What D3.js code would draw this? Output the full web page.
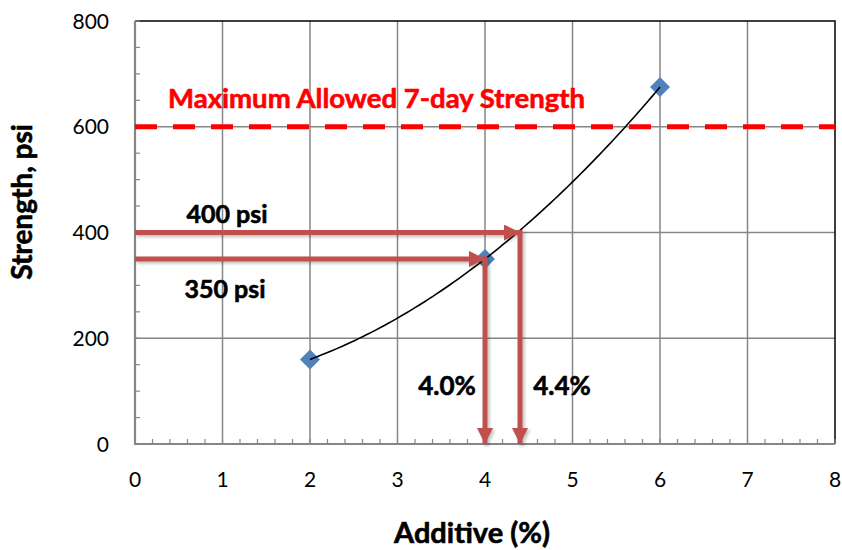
<!DOCTYPE html>
<html>
<head>
<meta charset="utf-8">
<script src="https://cdn.jsdelivr.net/npm/d3@7"></script>
<style>
  body { margin: 0; background: #fff; }
  text { font-family: Lato, "Open Sans", sans-serif; }
  text.heavy { font-weight: bold; stroke-width: 0.6px; paint-order: stroke; }
</style>
</head>
<body>
<svg id="chart"></svg>
<script>
// chart data
const additive = [2, 4, 6];
const strength = [160, 350, 675];
const maxStrength = 600;
const maxLabel = "Maximum Allowed 7-day Strength";
const readPsi = [400, 350];
const readPct = [4.4, 4.0];
const xTicks = [0, 1, 2, 3, 4, 5, 6, 7, 8];
const yTicks = [0, 200, 400, 600, 800];

// least squares polynomial (order 2) trendline, like the spreadsheet one
function polyfit2(xs, ys) {
  const s = (f) => d3.sum(xs.map((x, i) => f(x, ys[i])));
  const m = [
    [s((x) => 1), s((x) => x), s((x) => x * x), s((x, y) => y)],
    [s((x) => x), s((x) => x * x), s((x) => x ** 3), s((x, y) => x * y)],
    [s((x) => x * x), s((x) => x ** 3), s((x) => x ** 4), s((x, y) => x * x * y)]
  ];
  for (let i = 0; i < 3; i++) {
    for (let j = i + 1; j < 3; j++) {
      const f = m[j][i] / m[i][i];
      for (let k = i; k < 4; k++) m[j][k] -= f * m[i][k];
    }
  }
  const c = [0, 0, 0];
  for (let i = 2; i >= 0; i--) {
    let v = m[i][3];
    for (let k = i + 1; k < 3; k++) v -= m[i][k] * c[k];
    c[i] = v / m[i][i];
  }
  return (x) => c[0] + c[1] * x + c[2] * x * x;
}

function init() {
  const width = 842,
    height = 550;

  const svg = d3.select("#chart").attr("width", width).attr("height", height);

  const x = d3.scaleLinear().domain([0, 8]).range([135, 835]);
  const y = d3.scaleLinear().domain([0, 800]).range([444, 21]);

  const grey = "#868686";
  const arrowRed = "#C0504D";

  const defs = svg.append("defs");
  defs
    .append("filter")
    .attr("id", "shadow")
    .attr("x", "-10%")
    .attr("y", "-50%")
    .attr("width", "120%")
    .attr("height", "200%")
    .append("feDropShadow")
    .attr("dx", 2)
    .attr("dy", 2)
    .attr("stdDeviation", 1.5)
    .attr("flood-color", "#000")
    .attr("flood-opacity", 0.25);

  defs
    .append("marker")
    .attr("id", "head")
    .attr("markerUnits", "userSpaceOnUse")
    .attr("viewBox", "0 0 16 16")
    .attr("refX", 16)
    .attr("refY", 8)
    .attr("markerWidth", 16)
    .attr("markerHeight", 16)
    .attr("orient", "auto")
    .append("path")
    .attr("d", "M0,0 L16,8 L0,16 Z")
    .attr("fill", arrowRed);

  // gridlines
  svg
    .selectAll("line.vgrid")
    .data(xTicks.slice(1, -1))
    .join("line")
    .attr("class", "vgrid")
    .attr("x1", (d) => x(d))
    .attr("x2", (d) => x(d))
    .attr("y1", y(800))
    .attr("y2", y(0))
    .attr("stroke", grey)
    .attr("stroke-width", 1.5);

  svg
    .selectAll("line.hgrid")
    .data(yTicks.slice(1, -1))
    .join("line")
    .attr("class", "hgrid")
    .attr("x1", x(0))
    .attr("x2", x(8))
    .attr("y1", (d) => y(d))
    .attr("y2", (d) => y(d))
    .attr("stroke", grey)
    .attr("stroke-width", 1.5);

  // frame: top and right black, axes grey
  svg
    .append("path")
    .attr("d", `M${x(0)},${y(800)} H${x(8)} V${y(0)}`)
    .attr("fill", "none")
    .attr("stroke", "#000")
    .attr("stroke-width", 1.5);

  // minor ticks
  const xMinor = d3.range(0, 8.001, 0.2);
  const yMinor = d3.range(0, 800.001, 50);
  svg
    .selectAll("line.xminor")
    .data(xMinor)
    .join("line")
    .attr("class", "xminor")
    .attr("x1", (d) => x(d))
    .attr("x2", (d) => x(d))
    .attr("y1", y(0))
    .attr("y2", y(0) - 5)
    .attr("stroke", grey)
    .attr("stroke-width", 1.2);
  svg
    .selectAll("line.yminor")
    .data(yMinor)
    .join("line")
    .attr("class", "yminor")
    .attr("x1", x(0))
    .attr("x2", x(0) + 5)
    .attr("y1", (d) => y(d))
    .attr("y2", (d) => y(d))
    .attr("stroke", grey)
    .attr("stroke-width", 1.2);

  svg
    .append("path")
    .attr("d", `M${x(0)},${y(800)} V${y(0)} H${x(8)}`)
    .attr("fill", "none")
    .attr("stroke", grey)
    .attr("stroke-width", 2.2);

  // tick labels
  svg
    .selectAll("text.xtick")
    .data(xTicks)
    .join("text")
    .attr("class", "xtick")
    .attr("x", (d) => x(d))
    .attr("y", 487)
    .attr("text-anchor", "middle")
    .style("font-size", "21px")
    .text((d) => d);

  svg
    .selectAll("text.ytick")
    .data(yTicks)
    .join("text")
    .attr("class", "ytick")
    .attr("x", 109)
    .attr("y", (d) => y(d) + 7.5)
    .attr("text-anchor", "end")
    .style("font-size", "21px")
    .text((d) => d);

  // axis titles
  svg
    .append("text")
    .attr("class", "heavy")
    .attr("x", 472)
    .attr("y", 543)
    .attr("text-anchor", "middle")
    .attr("stroke", "#000")
    .style("font-size", "29px")
    .text("Additive (%)");

  svg
    .append("text")
    .attr("class", "heavy")
    .attr("transform", "translate(32,202) rotate(-90)")
    .attr("text-anchor", "middle")
    .attr("stroke", "#000")
    .style("font-size", "28px")
    .text("Strength, psi");

  // maximum allowed line
  svg
    .append("line")
    .attr("x1", x(0))
    .attr("x2", x(8))
    .attr("y1", y(maxStrength))
    .attr("y2", y(maxStrength))
    .attr("stroke", "#FF0000")
    .attr("stroke-width", 5)
    .attr("stroke-dasharray", "22,16");

  svg
    .append("text")
    .attr("class", "heavy")
    .attr("x", 168)
    .attr("y", 108)
    .attr("fill", "#FF0000")
    .attr("stroke", "#FF0000")
    .attr("textLength", 417)
    .attr("lengthAdjust", "spacingAndGlyphs")
    .style("font-size", "27px")
    .text(maxLabel);

  // data points
  const pts = additive.map((a, i) => [a, strength[i]]);
  svg
    .selectAll("path.point")
    .data(pts)
    .join("path")
    .attr("class", "point")
    .attr("d", d3.symbol().type(d3.symbolSquare).size(200))
    .attr("transform", (d) => `translate(${x(d[0])},${y(d[1])}) rotate(45)`)
    .attr("fill", "#4F81BD");

  // trendline
  const fit = polyfit2(additive, strength);
  const trend = d3.range(d3.min(additive), d3.max(additive) + 0.001, 0.05);
  svg
    .append("path")
    .datum(trend)
    .attr(
      "d",
      d3
        .line()
        .x((d) => x(d))
        .y((d) => y(fit(d)))
    )
    .attr("fill", "none")
    .attr("stroke", "#000")
    .attr("stroke-width", 1.6);

  // reading arrows
  const reads = readPsi.map((p, i) => ({ psi: p, pct: readPct[i] }));
  const arrows = svg.append("g").attr("filter", "url(#shadow)");
  arrows
    .selectAll("line.hArrow")
    .data(reads)
    .join("line")
    .attr("class", "hArrow")
    .attr("x1", x(0))
    .attr("x2", (d) => x(d.pct))
    .attr("y1", (d) => y(d.psi))
    .attr("y2", (d) => y(d.psi))
    .attr("stroke", arrowRed)
    .attr("stroke-width", 5)
    .attr("marker-end", "url(#head)");
  arrows
    .selectAll("line.vArrow")
    .data(reads)
    .join("line")
    .attr("class", "vArrow")
    .attr("x1", (d) => x(d.pct))
    .attr("x2", (d) => x(d.pct))
    .attr("y1", (d) => y(d.psi) - 2.5)
    .attr("y2", y(0))
    .attr("stroke", arrowRed)
    .attr("stroke-width", 5)
    .attr("marker-end", "url(#head)");

  // reading labels
  const psiLabelPos = [
    [227, 223],
    [225, 298]
  ];
  svg
    .selectAll("text.psiLabel")
    .data(reads)
    .join("text")
    .attr("class", "psiLabel heavy")
    .attr("x", (d, i) => psiLabelPos[i][0])
    .attr("y", (d, i) => psiLabelPos[i][1])
    .attr("text-anchor", "middle")
    .attr("stroke", "#000")
    .style("font-size", "25px")
    .text((d) => `${d.psi} psi`);

  const pctLabelX = [562, 447];
  svg
    .selectAll("text.pctLabel")
    .data(reads)
    .join("text")
    .attr("class", "pctLabel heavy")
    .attr("x", (d, i) => pctLabelX[i])
    .attr("y", 395)
    .attr("text-anchor", "middle")
    .attr("stroke", "#000")
    .style("font-size", "26px")
    .text((d) => `${d.pct.toFixed(1)}%`);
}

init();
</script>
</body>
</html>
